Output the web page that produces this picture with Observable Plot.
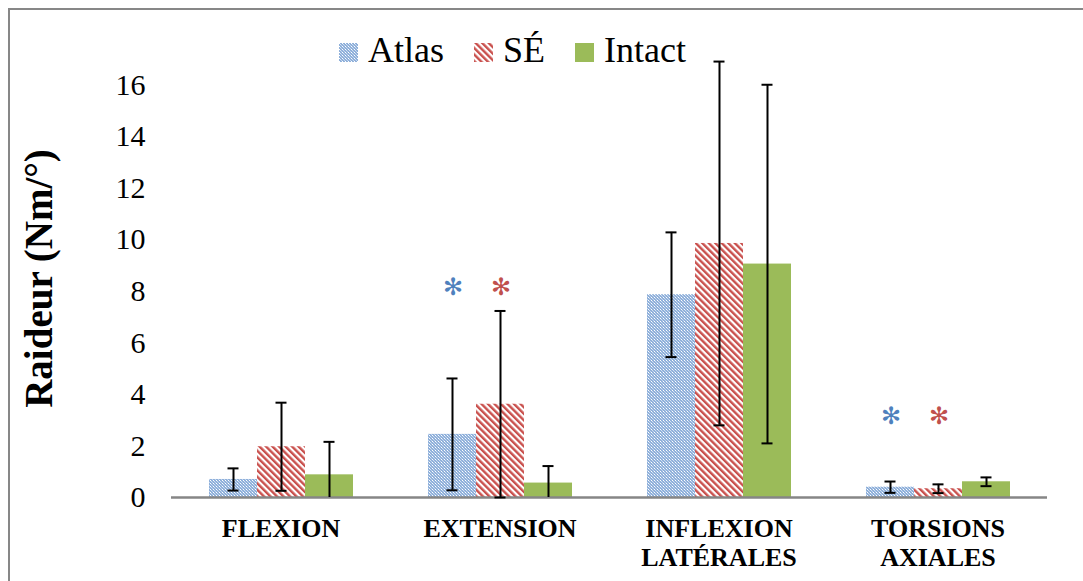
<!DOCTYPE html>
<html>
<head>
<meta charset="utf-8">
<script src="https://cdn.jsdelivr.net/npm/d3@7"></script>
<script src="https://cdn.jsdelivr.net/npm/@observablehq/plot@0.6"></script>
<style>
  html, body { margin: 0; padding: 0; background: #fff; }
  body { width: 1083px; height: 581px; position: relative; overflow: hidden; font-family: "Liberation Serif", "Times New Roman", serif; }
  #frame { position: absolute; left: 8px; top: 8px; width: 1200px; height: 700px; border-left: 2.5px solid #878787; border-top: 2.5px solid #878787; }
  #chart { position: absolute; left: 0; top: 0; }
  #legend { position: absolute; left: 339px; top: 32px; display: flex; align-items: center; font-size: 36px; line-height: 36px; color: #000; }
  #legend .sw { width: 19px; height: 19px; display: block; margin-top: 5px; }
  #legend .lab { margin-left: 10px; margin-right: 30px; }
  #legend .lab:last-child { margin-right: 0; }
  #chart svg, #chart svg text { font-family: "Liberation Serif", "Times New Roman", serif; }
  g[aria-label="y-axis label"] text { font-weight: bold; font-size: 39px; font-family: "Liberation Serif", serif; }
  g.stars text { font-family: "DejaVu Sans", sans-serif; }
</style>
</head>
<body>
<svg width="0" height="0" style="position:absolute">
  <defs>
    <pattern id="pat-atlas" patternUnits="userSpaceOnUse" width="3" height="3">
      <rect width="3" height="3" fill="#8fb0da"></rect>
      <rect x="0" y="0" width="1" height="1" fill="#ffffff"></rect>
      <rect x="1" y="1" width="1" height="1" fill="#d4e1f2"></rect>
      <rect x="2" y="2" width="1" height="1" fill="#c4d6ee"></rect>
    </pattern>
    <pattern id="pat-se" patternUnits="userSpaceOnUse" width="4.6" height="4.6" patternTransform="rotate(-45)">
      <rect width="4.6" height="4.6" fill="#ffffff"></rect>
      <rect x="0" y="0" width="2.4" height="4.6" fill="#c9504d"></rect>
    </pattern>
  </defs>
</svg>
<div id="frame"></div>
<div id="chart"></div>
<div id="legend"></div>
<script>
// ---- data ----
const categories = ["FLEXION", "EXTENSION", "INFLEXION\nLATÉRALES", "TORSIONS\nAXIALES"];
const series = ["Atlas", "SÉ", "Intact"];
const atlasMean = [0.70, 2.45, 7.87, 0.40];
const atlasSD   = [0.43, 2.17, 2.42, 0.22];
const seMean    = [1.97, 3.62, 9.86, 0.34];
const seSD      = [1.71, 3.62, 7.06, 0.17];
const intactMean = [0.88, 0.56, 9.06, 0.61];
const intactSD   = [1.28, 0.66, 6.96, 0.17];
const yTicks = [0, 2, 4, 6, 8, 10, 12, 14, 16];
const starCategories = ["EXTENSION", "TORSIONS\nAXIALES"];
const starValues = [8.15, 3.15];
const seriesColors = ["url(#pat-atlas)", "url(#pat-se)", "#9bbb59"];
const starColors = {"Atlas": "#4f81bd", "SÉ": "#c0504d"};

// ---- table ----
const means = [atlasMean, seMean, intactMean];
const sds = [atlasSD, seSD, intactSD];
const rows = [];
categories.forEach((c, i) => series.forEach((s, j) => {
  const m = means[j][i], sd = sds[j][i];
  rows.push({category: c, series: s, value: m, hi: m + sd, lo: m - sd});
}));
const stars = [];
starCategories.forEach((c, i) => ["Atlas", "SÉ"].forEach(s => stars.push({category: c, series: s, value: starValues[i]})));

const serif = "Liberation Serif";
const plot = Plot.plot({
  width: 1083,
  height: 581,
  marginTop: 59,
  marginBottom: 84,
  marginLeft: 171,
  marginRight: 36,
  style: {fontFamily: serif, fontSize: "30px", color: "#000", background: "transparent", overflow: "visible"},
  x: {domain: series, paddingInner: 0, paddingOuter: 0.76, axis: null},
  fx: {domain: categories, padding: 0, label: null},
  y: {domain: [0, 17]},
  color: {type: "ordinal", domain: series, range: seriesColors},
  marks: [
    Plot.axisY({ticks: yTicks, tickSize: 0, tickPadding: 26, label: "Raideur (Nm/°)", labelArrow: "none", labelAnchor: "center", labelOffset: 147, fontSize: 30, fontFamily: serif}),
    Plot.axisFx({anchor: "bottom", tickSize: 0, tickPadding: 18, fontSize: 26, fontWeight: "bold", lineHeight: 1.14, label: null, fontFamily: serif}),
    Plot.barY(rows, {fx: "category", x: "series", y: "value", fill: "series"}),
    Plot.ruleY([0], {stroke: "#868686", strokeWidth: 2.5}),
    Plot.ruleX(rows, {fx: "category", x: "series", y1: d => Math.max(0, d.lo), y2: "hi", stroke: "#000", strokeWidth: 2}),
    Plot.tickY(rows, {fx: "category", x: "series", y: "hi", stroke: "#000", strokeWidth: 2, insetLeft: 18.5, insetRight: 18.5}),
    Plot.tickY(rows.filter(d => d.lo >= 0), {fx: "category", x: "series", y: "lo", stroke: "#000", strokeWidth: 2, insetLeft: 18.5, insetRight: 18.5}),
    Plot.text(stars.filter(d => d.series === "Atlas"), {fx: "category", x: "series", y: "value", text: () => "✻", fill: starColors["Atlas"], fontSize: 24, fontFamily: "DejaVu Sans", className: "stars"}),
    Plot.text(stars.filter(d => d.series === "SÉ"), {fx: "category", x: "series", y: "value", text: () => "✻", fill: starColors["SÉ"], fontSize: 24, fontFamily: "DejaVu Sans", className: "stars"})
  ]
});
document.getElementById("chart").appendChild(plot);

// ---- legend ----
const legend = document.getElementById("legend");
series.forEach((s, j) => {
  const sw = document.createElementNS("http://www.w3.org/2000/svg", "svg");
  sw.setAttribute("class", "sw");
  sw.setAttribute("width", 19);
  sw.setAttribute("height", 19);
  const r = document.createElementNS("http://www.w3.org/2000/svg", "rect");
  r.setAttribute("width", 19);
  r.setAttribute("height", 19);
  r.setAttribute("fill", seriesColors[j]);
  sw.appendChild(r);
  legend.appendChild(sw);
  const lab = document.createElement("span");
  lab.className = "lab";
  lab.textContent = s;
  legend.appendChild(lab);
});
</script>
</body>
</html>
